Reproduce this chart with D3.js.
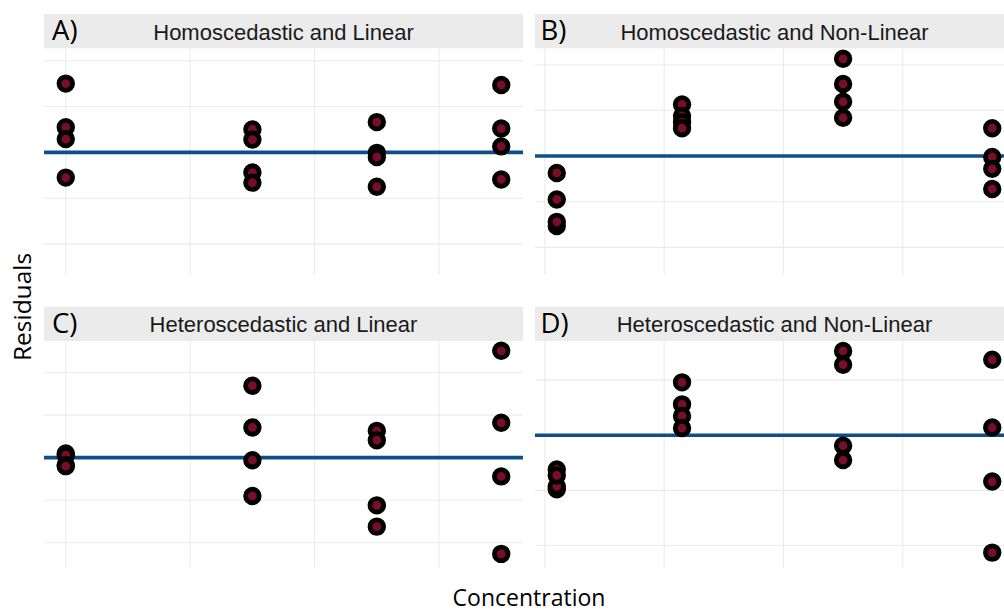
<!DOCTYPE html>
<html>
<head>
<meta charset="utf-8">
<script src="https://cdn.jsdelivr.net/npm/d3@7"></script>
<style>
  html, body { margin: 0; padding: 0; background: #fff; }
  svg { display: block; }
</style>
</head>
<body>
<svg id="chart" width="1004" height="613"></svg>
<script>
// Concentration levels (x) for the two design layouts
const concLinear = [0, 1.5, 2.5, 3.5];
const concNonLinear = [0.1, 1.15, 2.5, 3.75];

// Residuals: one row of four replicates per concentration level
const residA = [
  [1.50, 0.55, 0.29, -0.55],
  [0.50, 0.28, -0.44, -0.66],
  [0.66, -0.01, -0.10, -0.75],
  [1.47, 0.52, 0.13, -0.59]
];
const residB = [
  [-0.37, -0.95, -1.53, -1.44],
  [1.13, 0.88, 0.74, 0.61],
  [2.13, 1.58, 1.19, 0.84],
  [0.61, -0.02, -0.28, -0.72]
];
const residC = [
  [0.10, 0.06, -0.17, -0.20],
  [1.69, 0.71, -0.06, -0.90],
  [0.63, 0.41, -1.12, -1.62],
  [2.51, 0.82, -0.44, -2.26]
];
const residD = [
  [-0.98, -0.93, -0.62, -0.73],
  [0.96, 0.56, 0.35, 0.13],
  [1.53, 1.28, -0.19, -0.45],
  [1.37, 0.14, -0.84, -2.13]
];

// Visible y range of each panel
const yLimitsA = [-2.67, 2.27];
const yLimitsB = [-2.60, 2.36];
const yLimitsC = [-2.58, 2.74];
const yLimitsD = [-2.40, 1.71];

const panelTags = ["A)", "B)", "C)", "D)"];
const panelTitles = [
  "Homoscedastic and Linear",
  "Homoscedastic and Non-Linear",
  "Heteroscedastic and Linear",
  "Heteroscedastic and Non-Linear"
];
const xBreaks = [0, 1, 2, 3];
const yBreaks = [-2, -1, 0, 1, 2];
const xTitle = "Concentration";
const yTitle = "Residuals";

const panelConc = [concLinear, concNonLinear, concLinear, concNonLinear];
const panelResid = [residA, residB, residC, residD];
const panelYLimits = [yLimitsA, yLimitsB, yLimitsC, yLimitsD];

// Layout
const colLeft = [44, 535];
const panelW = 479;
const stripTop = [14, 306.7];
const stripH = 34.3;
const panelH = 226.5;

const svg = d3.select("#chart");

panelTitles.forEach((title, i) => {
  const col = i % 2, row = Math.floor(i / 2);
  const left = colLeft[col];
  const sTop = stripTop[row];
  const top = sTop + stripH;
  const bottom = top + panelH;

  const conc = panelConc[i];
  const [cMin, cMax] = d3.extent(conc);
  const pad = 0.05 * (cMax - cMin);
  const x = d3.scaleLinear().domain([cMin - pad, cMax + pad]).range([left, left + panelW]);
  const y = d3.scaleLinear().domain(panelYLimits[i]).range([bottom, top]);

  const g = svg.append("g");

  // strip
  g.append("rect")
    .attr("x", left).attr("y", sTop)
    .attr("width", panelW).attr("height", stripH)
    .attr("fill", "#ebebeb");
  g.append("text")
    .attr("x", left + panelW / 2).attr("y", sTop + 25.5)
    .attr("text-anchor", "middle")
    .attr("font-family", "'Liberation Sans', Arial, sans-serif")
    .attr("font-size", 22)
    .attr("fill", "#1a1a1a")
    .text(title);
  g.append("text")
    .attr("x", col === 0 ? 52 : 540.5)
    .attr("y", sTop + 26)
    .attr("font-family", "'Open Sans', sans-serif")
    .attr("font-size", 27.5)
    .attr("fill", "#000")
    .text(panelTags[i]);

  // grid
  const ys = yBreaks.filter(v => v >= y.domain()[0] && v <= y.domain()[1]);
  g.append("g").selectAll("line").data(ys).join("line")
    .attr("x1", left).attr("x2", left + panelW)
    .attr("y1", d => y(d)).attr("y2", d => y(d))
    .attr("stroke", "#ebebeb").attr("stroke-width", 1.1);
  g.append("g").selectAll("line").data(xBreaks).join("line")
    .attr("x1", d => x(d)).attr("x2", d => x(d))
    .attr("y1", top).attr("y2", bottom)
    .attr("stroke", "#ebebeb").attr("stroke-width", 1.1);

  // zero reference
  g.append("line")
    .attr("x1", left).attr("x2", left + panelW)
    .attr("y1", y(0)).attr("y2", y(0))
    .attr("stroke", "#104e8b").attr("stroke-width", 3.6);

  // points
  const pts = [];
  panelResid[i].forEach((reps, k) => reps.forEach(r => pts.push({ c: conc[k], r })));
  g.append("g").selectAll("circle").data(pts).join("circle")
    .attr("cx", d => x(d.c)).attr("cy", d => y(d.r))
    .attr("r", 6.8)
    .attr("fill", "#7a0c2c")
    .attr("stroke", "#000")
    .attr("stroke-width", 4.8);
});

// axis titles
svg.append("text")
  .attr("x", 529).attr("y", 606)
  .attr("text-anchor", "middle")
  .attr("font-family", "'Open Sans', sans-serif")
  .attr("font-size", 23)
  .attr("fill", "#000")
  .text(xTitle);
svg.append("text")
  .attr("transform", "translate(30.5,307) rotate(-90)")
  .attr("text-anchor", "middle")
  .attr("font-family", "'Open Sans', sans-serif")
  .attr("font-size", 24.5)
  .attr("fill", "#000")
  .text(yTitle);
</script>
</body>
</html>
